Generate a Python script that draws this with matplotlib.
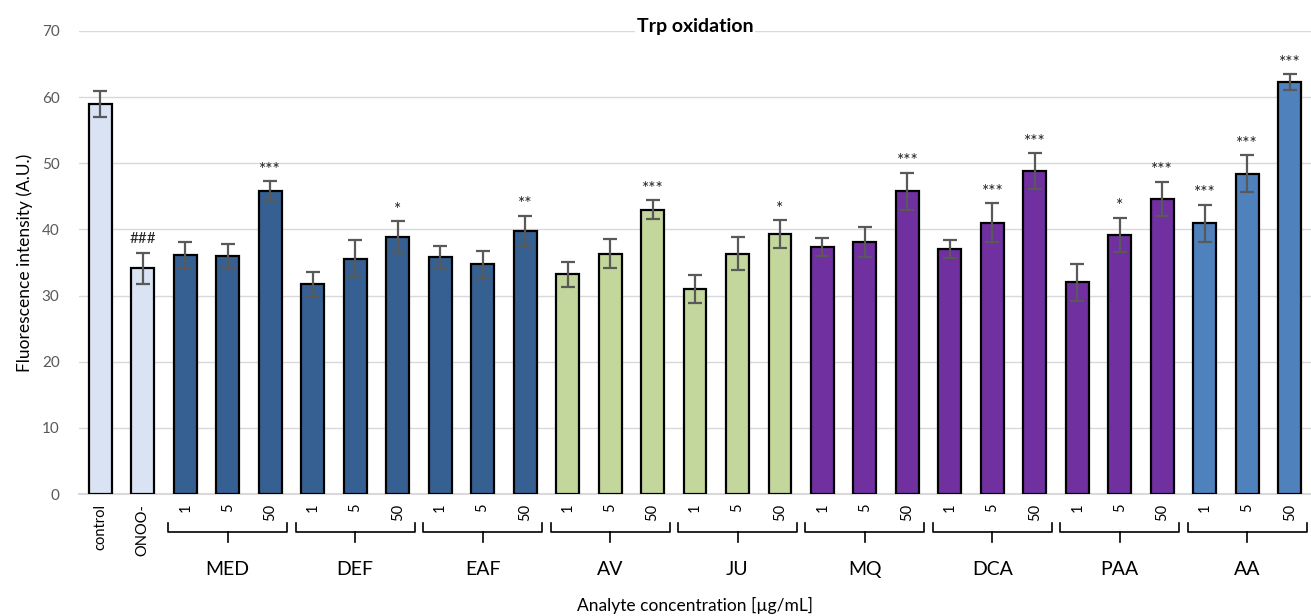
import matplotlib.pyplot as plt
import numpy as np

plt.rcParams['font.family'] = ['Lato', 'DejaVu Sans']

groups = ['MED', 'DEF', 'EAF', 'AV', 'JU', 'MQ', 'DCA', 'PAA', 'AA']
doses = ['1', '5', '50']
tick_labels = ['control', 'ONOO-'] + doses * len(groups)

means = [59.0, 34.1,
         36.1, 36.0, 45.8,
         31.7, 35.6, 38.9,
         35.8, 34.7, 39.8,
         33.2, 36.3, 43.0,
         31.0, 36.3, 39.3,
         37.3, 38.1, 45.8,
         37.1, 41.0, 48.8,
         32.0, 39.2, 44.6,
         40.9, 48.4, 62.3]
errors = [2.0, 2.3,
          2.0, 1.8, 1.5,
          1.9, 2.75, 2.3,
          1.7, 2.1, 2.3,
          1.9, 2.2, 1.4,
          2.05, 2.5, 2.1,
          1.35, 2.3, 2.8,
          1.35, 2.95, 2.7,
          2.85, 2.6, 2.6,
          2.8, 2.8, 1.15]
signif = ['', '###',
          '', '', '***',
          '', '', '*',
          '', '', '**',
          '', '', '***',
          '', '', '*',
          '', '', '***',
          '', '***', '***',
          '', '*', '***',
          '***', '***', '***']

group_colors = {'MED': '#376092', 'DEF': '#376092', 'EAF': '#376092',
                'AV': '#C3D69B', 'JU': '#C3D69B',
                'MQ': '#7030A0', 'DCA': '#7030A0', 'PAA': '#7030A0',
                'AA': '#4F81BD'}
colors = ['#DAE3F3', '#DAE3F3']
for g in groups:
    colors += [group_colors[g]] * 3

x = np.arange(len(means))

fig = plt.figure(figsize=(13.11, 6.16), dpi=100)
ax = fig.add_axes([0.0603, 0.198, 0.9397, 0.7517])

ax.bar(x, means, width=0.54, color=colors, edgecolor='black', linewidth=1.6, zorder=3)
ax.errorbar(x, means, yerr=errors, fmt='none', ecolor='#595959', elinewidth=1.6,
            capsize=5, capthick=1.6, zorder=4)

# significance marks above the error bars
for xi, m, e, s in zip(x, means, errors, signif):
    if s.startswith('#'):
        ax.text(xi, m + e + 1.5, s, ha='center', va='baseline', fontsize=11, color='#222222')
    elif s:
        ax.text(xi, m + e + 1.0, s, ha='center', va='baseline', fontsize=12.5, color='#222222')

ax.set_ylim(0, 70)
ax.set_xlim(-0.5, len(means) - 0.5)
ax.set_yticks(range(0, 71, 10))
ax.yaxis.grid(True, color='#D9D9D9', linewidth=1)
ax.set_axisbelow(True)
for sp in ['left', 'right', 'top']:
    ax.spines[sp].set_visible(False)
ax.spines['bottom'].set_color('#D9D9D9')
ax.spines['bottom'].set_linewidth(1.5)
ax.tick_params(axis='both', length=0)
ax.tick_params(axis='y', labelcolor='#595959', labelsize=11, pad=14)

ax.set_xticks(x)
ax.set_xticklabels(tick_labels, rotation=90, fontsize=10.5, va='top')
ax.tick_params(axis='x', pad=7)

ax.set_ylabel('Fluorescence intensity (A.U.)', fontsize=12.5)
ax.yaxis.set_label_coords(-0.037, 0.5)

ax.text(0.5, 1.01, 'Trp oxidation', transform=ax.transAxes, ha='center', va='center',
        fontsize=14, fontweight='bold',
        bbox=dict(facecolor='white', edgecolor='none', pad=1))

# group brackets under the dose labels
tr = ax.get_xaxis_transform()
for i, g in enumerate(groups):
    mid = 2 + 3 * i + 1
    left, right = mid - 1.4, mid + 1.4
    ax.plot([left, left, right, right], [-0.063, -0.082, -0.082, -0.063],
            transform=tr, color='black', lw=1.2, clip_on=False)
    ax.plot([mid, mid], [-0.082, -0.104], transform=tr, color='black', lw=1.2, clip_on=False)
    ax.text(mid, -0.164, g, transform=tr, ha='center', va='center', fontsize=14)

ax.text(0.5, -0.24, 'Analyte concentration [µg/mL]', transform=ax.transAxes,
        ha='center', va='center', fontsize=12.5)

plt.savefig('out.png', dpi=100)
